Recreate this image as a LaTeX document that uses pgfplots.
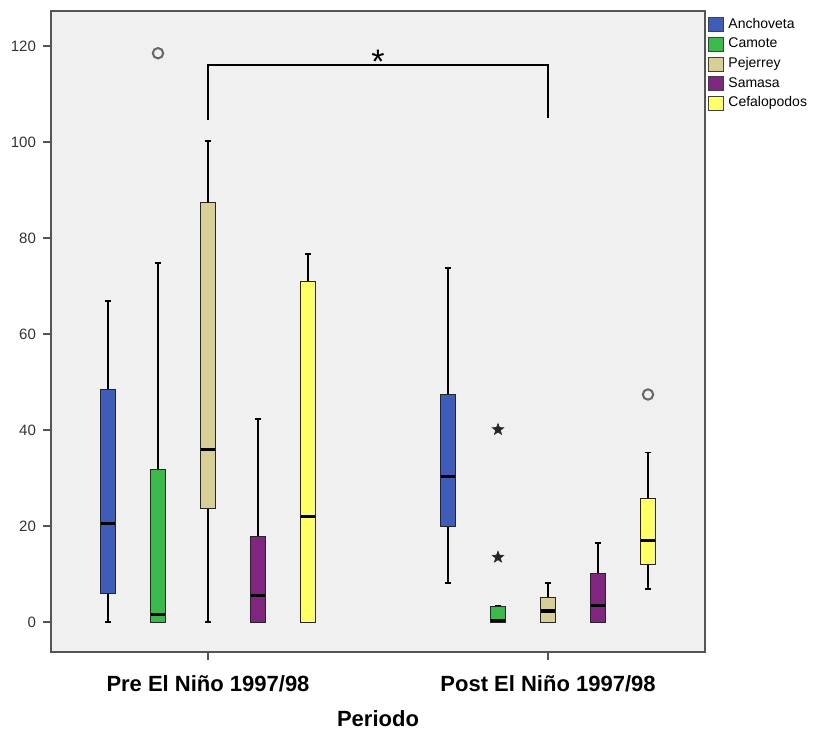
\documentclass[border=0pt]{standalone}
\usepackage{fontspec}
\setmainfont{Liberation Sans}
\usepackage{pgfplots}
\pgfplotsset{compat=1.18}
\usepgfplotslibrary{statistics}
\definecolor{bgc}{HTML}{F0F0F0}
\definecolor{anch}{HTML}{3F5CB8}
\definecolor{camo}{HTML}{3ABA4A}
\definecolor{peje}{HTML}{D7CF96}
\definecolor{sama}{HTML}{802680}
\definecolor{cefa}{HTML}{FFFF66}
\definecolor{frame}{HTML}{555555}
\pgfdeclareplotmark{fstar}{%
  \pgfpathmoveto{\pgfpointpolar{90}{\pgfplotmarksize}}%
  \pgfpathlineto{\pgfpointpolar{126}{0.42\pgfplotmarksize}}%
  \pgfpathlineto{\pgfpointpolar{162}{\pgfplotmarksize}}%
  \pgfpathlineto{\pgfpointpolar{198}{0.42\pgfplotmarksize}}%
  \pgfpathlineto{\pgfpointpolar{234}{\pgfplotmarksize}}%
  \pgfpathlineto{\pgfpointpolar{270}{0.42\pgfplotmarksize}}%
  \pgfpathlineto{\pgfpointpolar{306}{\pgfplotmarksize}}%
  \pgfpathlineto{\pgfpointpolar{342}{0.42\pgfplotmarksize}}%
  \pgfpathlineto{\pgfpointpolar{18}{\pgfplotmarksize}}%
  \pgfpathlineto{\pgfpointpolar{54}{0.42\pgfplotmarksize}}%
  \pgfpathclose\pgfusepathqfillstroke}
\pgfplotsset{
  bx/.style n args={7}{forget plot, fill=#2, draw=black!85, line width=0.5pt,
    boxplot/draw direction=y,
    boxplot prepared={draw position=#1, lower whisker=#3, lower quartile=#4,
      median=#5, upper quartile=#6, upper whisker=#7,
      box extend=0.29, whisker extend=0.12,
      every whisker/.style={black, line width=0.9pt},
      every median/.style={black, line width=1.6pt}}},
}
\begin{document}
\begin{tikzpicture}[x=1pt,y=1pt]
\useasboundingbox (0,0) rectangle (411,366.5);
\begin{axis}[
  at={(25.5pt,40.5pt)}, anchor=south west,
  scale only axis, width=327pt, height=320.5pt,
  xmin=-0.14, xmax=12.94, ymin=-6.25, ymax=127.3,
  axis background/.style={fill=bgc},
  axis line style={draw=frame, line width=0.8pt},
  ytick={0,20,...,120}, xtick={3,9.8},
  xticklabels={Pre El Niño 1997/98, Post El Niño 1997/98},
  xtick pos=bottom, ytick pos=left,
  tick align=outside, major tick length=4pt,
  tick style={frame, line width=0.6pt},
  /pgf/number format/assume math mode=true,
  xticklabel style={font=\bfseries\fontsize{11}{12}\selectfont, yshift=-4pt},
  yticklabel style={font=\fontsize{7.5}{9}\selectfont, text=black!80},
  xlabel={Periodo},
  xlabel style={font=\bfseries\fontsize{11}{12}\selectfont, yshift=-2.5pt},
  legend style={at={(1,1)}, anchor=north west, draw=none, fill=none,
    xshift=1.5pt, yshift=-1.5pt, font=\fontsize{7}{8}\selectfont,
    row sep=-0.7pt, inner sep=0pt, cells={anchor=west}},
  legend cell align=left,
  legend image code/.code={\draw[#1, draw=black!75, line width=0.5pt] (0pt,-3.5pt) rectangle (7.5pt,3.5pt);},
]
\addlegendimage{fill=anch}\addlegendentry{Anchoveta}
\addlegendimage{fill=camo}\addlegendentry{Camote}
\addlegendimage{fill=peje}\addlegendentry{Pejerrey}
\addlegendimage{fill=sama}\addlegendentry{Samasa}
\addlegendimage{fill=cefa}\addlegendentry{Cefalopodos}
% Pre El Nino
\addplot[bx={1}{anch}{0}{6.0}{20.6}{48.5}{66.9}] coordinates {};
\addplot[bx={2}{camo}{0}{0}{1.5}{31.8}{74.8}] coordinates {};
\addplot[bx={3}{peje}{0}{23.7}{36.0}{87.5}{100.2}] coordinates {};
\addplot[bx={4}{sama}{0}{0}{5.6}{17.8}{42.3}] coordinates {};
\addplot[bx={5}{cefa}{0}{0}{21.9}{70.9}{76.7}] coordinates {};
% Post El Nino
\addplot[bx={7.8}{anch}{8.2}{19.9}{30.3}{47.4}{73.7}] coordinates {};
\addplot[bx={8.8}{camo}{0}{0}{0.3}{3.2}{3.4}] coordinates {};
\addplot[bx={9.8}{peje}{0}{0}{2.3}{5.1}{8.2}] coordinates {};
\addplot[bx={10.8}{sama}{0}{0}{3.5}{10.1}{16.4}] coordinates {};
\addplot[bx={11.8}{cefa}{6.8}{11.9}{16.9}{25.8}{35.3}] coordinates {};
% outliers
\addplot[forget plot, only marks, mark=o, mark size=2.6pt, draw=black!60, line width=1pt] coordinates {(2,118.5) (11.8,47.4)};
\addplot[forget plot, only marks, mark=fstar, mark size=3pt, draw=black!85, fill=black!85, line width=0.3pt] coordinates {(8.8,40.1) (8.8,13.5)};
% significance bracket
\addplot[forget plot, black, line width=0.9pt] coordinates {(3,104.6) (3,116) (9.8,116) (9.8,105)};
\node[font=\fontsize{17}{17}\selectfont] at (axis cs:6.4,116.8) {*};
\end{axis}
\end{tikzpicture}
\end{document}
